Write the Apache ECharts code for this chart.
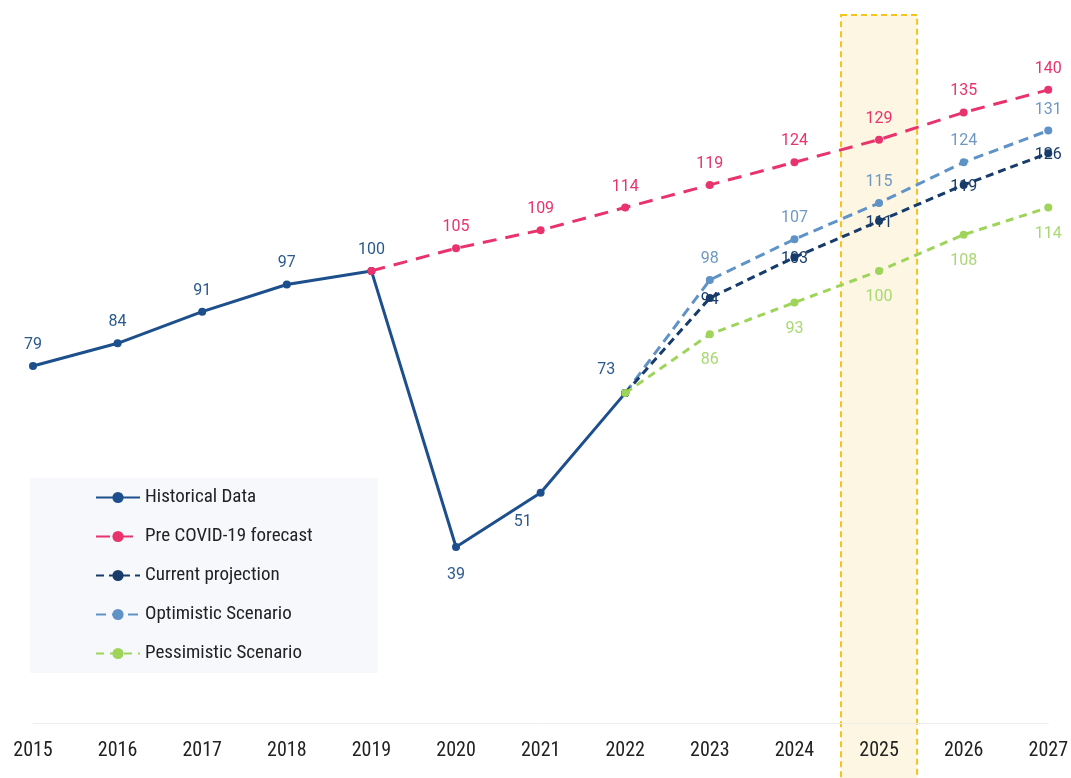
<!DOCTYPE html>
<html>
<head>
<meta charset="utf-8">
<script src="https://cdn.jsdelivr.net/npm/echarts@6/dist/echarts.min.js"></script>
<style>
html,body{margin:0;padding:0;background:#fff;}
#c{width:1071px;height:778px;}
</style>
</head>
<body>
<div id="c"></div>
<script>
const years = ['2015','2016','2017','2018','2019','2020','2021','2022','2023','2024','2025','2026','2027'];
const historical = [79, 84, 91, 97, 100, 39, 51, 73, null, null, null, null, null];
const preCovid = [null, null, null, null, 100, 105, 109, 114, 119, 124, 129, 135, 140];
const current = [null, null, null, null, null, null, null, 73, 94, 103, 111, 119, 126];
const optimistic = [null, null, null, null, null, null, null, 73, 98, 107, 115, 124, 131];
const pessimistic = [null, null, null, null, null, null, null, 73, 86, 93, 100, 108, 114];
const highlightYear = '2025';

const labelFont = 'Roboto, "Liberation Sans", sans-serif';
const narrowFont = '"Liberation Sans Narrow", "Roboto Condensed", Roboto, sans-serif';

const C = {
  hist: '#1d4f8c', histLbl: '#2b5a8e',
  pre: '#e8336d',
  cur: '#173c6b',
  opt: '#5f93c7', optLbl: '#6f98c2',
  pes: '#9fd45a', pesLbl: '#a9d873'
};

// special label placements for historical points
const histLabelCfg = {
  5: {position: 'bottom', distance: 16},
  6: {position: 'bottom', offset: [-18, 8]},
  7: {position: 'top', offset: [-19, -2]}
};

function mkData(arr, hideIdx, cfg) {
  return arr.map((v, i) => {
    if (v === null) return '-';
    const o = {value: v};
    if (hideIdx.indexOf(i) >= 0) o.label = {show: false};
    else if (cfg && cfg[i]) o.label = cfg[i];
    return o;
  });
}

const chart = echarts.init(document.getElementById('c'), null, {renderer: 'canvas'});

function lineSeries(name, arr, color, lblColor, dash, pos, hideIdx, cfg, z) {
  return {
    name: name,
    type: 'line',
    data: mkData(arr, hideIdx, cfg),
    z: z,
    symbol: 'circle',
    symbolSize: 8,
    showSymbol: true,
    connectNulls: false,
    lineStyle: {color: color, width: 3, type: dash},
    itemStyle: {color: color},
    label: {
      show: true,
      position: pos,
      distance: 9,
      color: lblColor,
      fontFamily: labelFont,
      fontSize: 16
    },
    emphasis: {disabled: true}
  };
}

const option = {
  animation: false,
  backgroundColor: '#ffffff',
  grid: {left: 33, right: 20, top: 44.6, bottom: 54.5},
  xAxis: {
    type: 'category',
    data: years,
    boundaryGap: false,
    axisTick: {show: false},
    axisLine: {lineStyle: {color: '#ececec', width: 1}},
    axisLabel: {
      color: '#222',
      fontFamily: narrowFont,
      fontSize: 20,
      margin: 17
    },
    splitLine: {show: false}
  },
  yAxis: {
    type: 'value',
    min: 0,
    max: 150,
    show: false,
    splitLine: {show: false}
  },
  legend: {
    orient: 'vertical',
    left: 30,
    top: 478,
    backgroundColor: '#f6f8fb',
    padding: [10, 65, 10, 65],
    itemWidth: 44,
    itemHeight: 14,
    itemGap: 20,
    textStyle: {
      color: '#222',
      fontFamily: narrowFont,
      fontSize: 19,
      lineHeight: 16
    },
    data: ['Historical Data', 'Pre COVID-19 forecast', 'Current projection', 'Optimistic Scenario', 'Pessimistic Scenario']
  },
  series: [
    lineSeries('Historical Data', historical, C.hist, C.histLbl, 'solid', 'top', [], histLabelCfg, 3),
    lineSeries('Pre COVID-19 forecast', preCovid, C.pre, C.pre, [14, 9], 'top', [4], null, 4),
    lineSeries('Optimistic Scenario', optimistic, C.opt, C.optLbl, [10, 6], 'top', [7], null, 4),
    lineSeries('Current projection', current, C.cur, C.cur, [8, 5], 'inside', [7], null, 5),
    lineSeries('Pessimistic Scenario', pessimistic, C.pes, C.pesLbl, [8, 6], 'bottom', [7], null, 6)
  ]
};
option.series[4].label.distance = 14;
option.series[3].label.offset = [0, 2];

chart.setOption(option);

// highlight band for the focus year, positioned from the category scale
const xa = chart.convertToPixel({xAxisIndex: 0}, highlightYear);
const idx = years.indexOf(highlightYear);
const xb = chart.convertToPixel({xAxisIndex: 0}, years[idx + 1]);
const half = (xb - xa) * 0.45;
chart.setOption({
  graphic: [{
    type: 'rect',
    z: -1,
    silent: true,
    shape: {x: xa - half, y: 15, width: half * 2, height: 800},
    style: {fill: '#fdf6e2', stroke: '#f8c21c', lineWidth: 2, lineDash: [6, 4]}
  }]
});
</script>
</body>
</html>
